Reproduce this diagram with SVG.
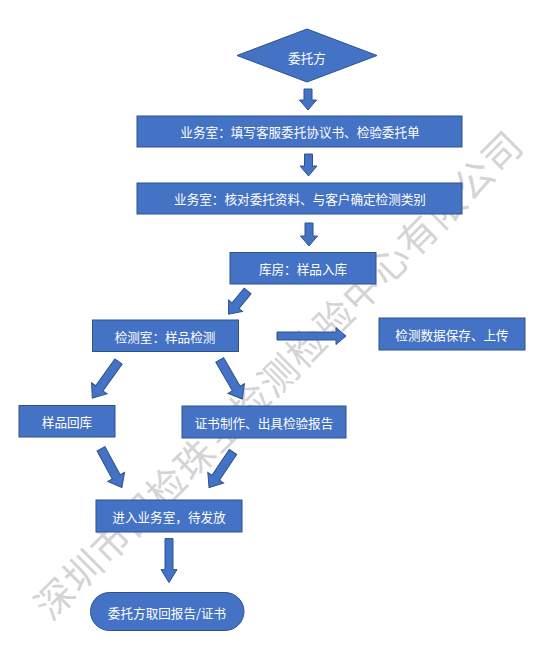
<svg xmlns="http://www.w3.org/2000/svg" width="544" height="647" viewBox="0 0 544 647">
<style>
.n{fill:#4472C4;stroke:#2F528F;stroke-width:1}
.a{fill:#4472C4;stroke:#2F528F;stroke-width:1}
.t{fill:#ffffff;font-family:"Noto Sans CJK SC","Microsoft YaHei",sans-serif;font-size:12.6px;text-anchor:middle;dominant-baseline:central}
.w{fill:#d4d4d4;font-family:"Noto Sans CJK SC",sans-serif;font-size:38px;text-anchor:middle;dominant-baseline:central}
</style>
<rect width="544" height="647" fill="#ffffff"/>
<text class="w" transform="translate(277,373) rotate(-45)" letter-spacing="1.5">深圳市国检珠宝检测检验中心有限公司</text>
<g id="connectors">
<polygon class="a" transform="translate(308,89)" points="-4,0 4,0 4,11 8.5,11 0,21 -8.5,11 -4,11"/>
<polygon class="a" transform="translate(308.5,154)" points="-4,0 4,0 4,12 8.5,12 0,22 -8.5,12 -4,12"/>
<polygon class="a" transform="translate(309,223)" points="-4,0 4,0 4,13 8.5,13 0,23 -8.5,13 -4,13"/>
<polygon class="a" transform="translate(247.6,291) rotate(39.4)" points="-4.5,0 4.5,0 4.5,19 9,19 0,30 -9,19 -4.5,19"/>
<polygon class="a" transform="translate(277,336) rotate(-90)" points="-4,0 4,0 4,59 8.5,59 0,69 -8.5,59 -4,59"/>
<polygon class="a" transform="translate(118.5,361.5) rotate(35.6)" points="-4.5,0 4.5,0 4.5,33 9.5,33 0,45 -9.5,33 -4.5,33"/>
<polygon class="a" transform="translate(219.7,360) rotate(-30.1)" points="-4.5,0 4.5,0 4.5,33 9.5,33 0,45 -9.5,33 -4.5,33"/>
<polygon class="a" transform="translate(101,448.7) rotate(-28.3)" points="-4.5,0 4.5,0 4.5,32 9.5,32 0,44 -9.5,32 -4.5,32"/>
<polygon class="a" transform="translate(233,452) rotate(33.9)" points="-4.5,0 4.5,0 4.5,31 9.5,31 0,43 -9.5,31 -4.5,31"/>
<polygon class="a" transform="translate(169,538.6)" points="-4,0 4,0 4,31 8,31 0,44 -8,31 -4,31"/>
</g>
<g id="start">
<polygon class="n" points="237,55.5 307,29 377,55.5 307,82"/>
<text class="t" x="307" y="57">委托方</text>
</g>
<g id="box1">
<rect class="n" x="137" y="116" width="325" height="31"/>
<text class="t" x="300" y="131">业务室：填写客服委托协议书、检验委托单</text>
</g>
<g id="box2">
<rect class="n" x="137" y="183" width="325" height="31"/>
<text class="t" x="300" y="198">业务室：核对委托资料、与客户确定检测类别</text>
</g>
<g id="box3">
<rect class="n" x="230" y="252.5" width="146" height="31.5"/>
<text class="t" x="303" y="268.5">库房：样品入库</text>
</g>
<g id="box4">
<rect class="n" x="92.5" y="320" width="146" height="31.5"/>
<text class="t" x="165" y="336">检测室：样品检测</text>
</g>
<g id="box5">
<rect class="n" x="379" y="318" width="146" height="32"/>
<text class="t" x="452" y="334">检测数据保存、上传</text>
</g>
<g id="box6">
<rect class="n" x="19" y="405.5" width="96" height="31.5"/>
<text class="t" x="67" y="421.5">样品回库</text>
</g>
<g id="box7">
<rect class="n" x="182" y="406" width="164" height="32"/>
<text class="t" x="264" y="422">证书制作、出具检验报告</text>
</g>
<g id="box8">
<rect class="n" x="96" y="500" width="146" height="32"/>
<text class="t" x="169" y="516">进入业务室，待发放</text>
</g>
<g id="end">
<rect class="n" x="90.5" y="592.5" width="153.5" height="38" rx="19" ry="19"/>
<text class="t" x="167" y="612">委托方取回报告/证书</text>
</g>
</svg>
